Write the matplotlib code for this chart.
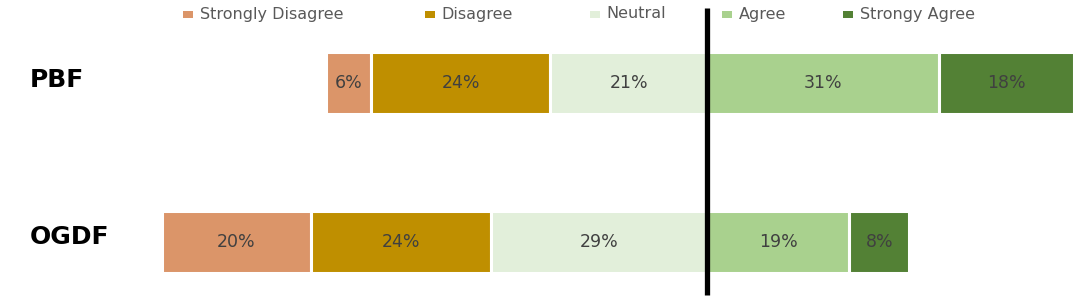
import matplotlib
matplotlib.use("Agg")
import matplotlib.pyplot as plt
from matplotlib.patches import Rectangle
import numpy as np

categories = ["PBF", "OGDF"]
levels = ["Strongly Disagree", "Disagree", "Neutral", "Agree", "Strongy Agree"]
strongly_disagree = [6, 20]
disagree = [24, 24]
neutral = [21, 29]
agree = [31, 19]
strongly_agree = [18, 8]
colors = ["#DB9569", "#BF8F00", "#E2EFDA", "#A9D18E", "#538135"]

W, H = 1076, 299
fig = plt.figure(figsize=(W / 100, H / 100), dpi=100)
ax = fig.add_axes([0, 0, 1, 1])
ax.set_xlim(-94.6, 48.7 + 0.6)
ax.set_ylim(1.358, -0.522)
ax.axis("off")

series = [strongly_disagree, disagree, neutral, agree, strongly_agree]
y = np.arange(len(categories))
left_total = np.array(strongly_disagree) + np.array(disagree) + np.array(neutral)
start = -left_total.astype(float)
for vals, col in zip(series, colors):
    vals = np.array(vals, dtype=float)
    bars = ax.barh(y, vals, left=start, height=0.39, color=col,
                   edgecolor="white", linewidth=2.2)
    for b, v in zip(bars, vals):
        ax.text(b.get_x() + b.get_width() / 2, b.get_y() + b.get_height() / 2,
                f"{int(v)}%", ha="center", va="center", fontsize=12.5,
                color="#404040")
    start = start + vals

ax.plot([0, 0], [-0.472, 1.333], color="black", linewidth=3.8, solid_capstyle="butt")

for yi, cat in zip(y, categories):
    ax.text(30 / W, 1 - (80 + 157 * yi) / H, cat, transform=ax.transAxes,
            ha="left", va="center", fontsize=18, fontweight="bold", color="black")

# legend entries (marker centre x, text start x in pixels)
marker_x = [188, 430, 595, 727, 848]
text_x = [200, 441, 606, 739, 860]
ly = 14
for mx, tx, c, lab in zip(marker_x, text_x, colors, levels):
    fig.patches.append(Rectangle(((mx - 5) / W, 1 - (ly + 4) / H), 10 / W, 7 / H,
                                 transform=fig.transFigure, facecolor=c,
                                 edgecolor="none"))
    fig.text(tx / W, 1 - ly / H, lab, ha="left", va="center", fontsize=11.5,
             color="#595959")

fig.savefig("out.png", dpi=100)
